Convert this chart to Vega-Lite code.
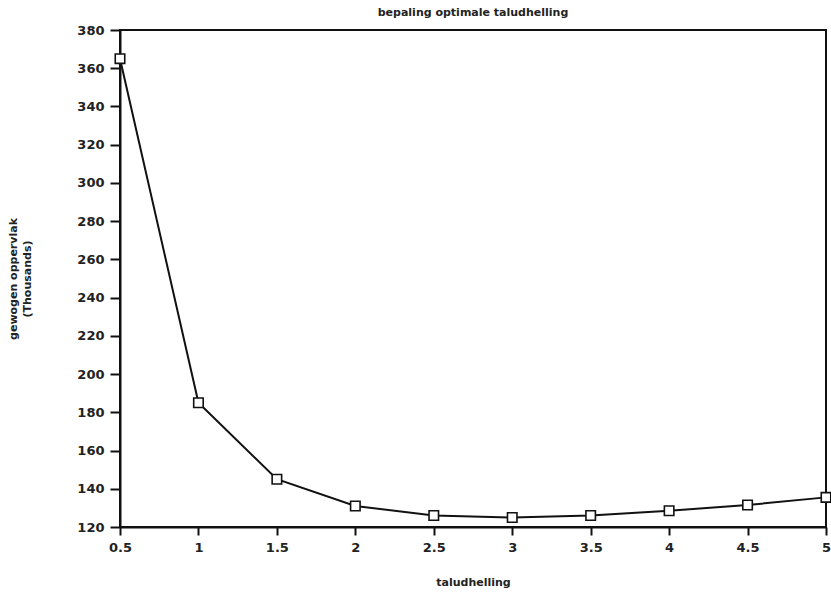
{
  "$schema": "https://vega.github.io/schema/vega-lite/v6.json",
  "width": 706,
  "height": 497,
  "autosize": {"type": "none"},
  "padding": {"left": 120, "top": 30, "right": 5, "bottom": 67},
  "background": "white",
  "title": {
    "text": "bepaling optimale taludhelling",
    "font": "DejaVu Sans",
    "fontSize": 11,
    "fontWeight": "bold",
    "color": "#222222",
    "offset": 6
  },
  "data": {
    "values": [
      {"taludhelling": 0.5, "opp": 365},
      {"taludhelling": 1, "opp": 185},
      {"taludhelling": 1.5, "opp": 145},
      {"taludhelling": 2, "opp": 131},
      {"taludhelling": 2.5, "opp": 126},
      {"taludhelling": 3, "opp": 125},
      {"taludhelling": 3.5, "opp": 126},
      {"taludhelling": 4, "opp": 128.5},
      {"taludhelling": 4.5, "opp": 131.5},
      {"taludhelling": 5, "opp": 135.5}
    ]
  },
  "encoding": {
    "x": {
      "field": "taludhelling",
      "type": "quantitative",
      "scale": {"domain": [0.5, 5], "nice": false, "zero": false},
      "axis": {
        "values": [0.5, 1, 1.5, 2, 2.5, 3, 3.5, 4, 4.5, 5],
        "format": "~g",
        "title": "taludhelling",
        "grid": false,
        "domainColor": "#111111",
        "domainWidth": 2,
        "tickColor": "#111111",
        "tickWidth": 2,
        "tickSize": 8,
        "labelFont": "DejaVu Sans",
        "labelFontSize": 13,
        "labelFontWeight": "bold",
        "labelColor": "#222222",
        "labelPadding": 6,
        "labelFlush": false,
        "titleFont": "DejaVu Sans",
        "titleFontSize": 11,
        "titleFontWeight": "bold",
        "titleColor": "#222222",
        "titlePadding": 22
      }
    },
    "y": {
      "field": "opp",
      "type": "quantitative",
      "scale": {"domain": [120, 380], "nice": false, "zero": false},
      "axis": {
        "values": [120, 140, 160, 180, 200, 220, 240, 260, 280, 300, 320, 340, 360, 380],
        "title": ["gewogen oppervlak", "(Thousands)"],
        "grid": false,
        "domainColor": "#111111",
        "domainWidth": 2,
        "tickColor": "#111111",
        "tickWidth": 2,
        "tickSize": 10,
        "labelFont": "DejaVu Sans",
        "labelFontSize": 13,
        "labelFontWeight": "bold",
        "labelColor": "#222222",
        "labelPadding": 6,
        "labelFlush": false,
        "titleFont": "DejaVu Sans",
        "titleFontSize": 11,
        "titleFontWeight": "bold",
        "titleColor": "#222222",
        "titlePadding": 44,
        "titleLineHeight": 14
      }
    }
  },
  "layer": [
    {"mark": {"type": "line", "color": "#111111", "strokeWidth": 2}},
    {"mark": {"type": "point", "shape": "square", "filled": false, "color": "#111111", "size": 90, "strokeWidth": 1.6, "opacity": 1, "fill": "white"}}
  ],
  "config": {"view": {"stroke": "#111111", "strokeWidth": 2}}
}
